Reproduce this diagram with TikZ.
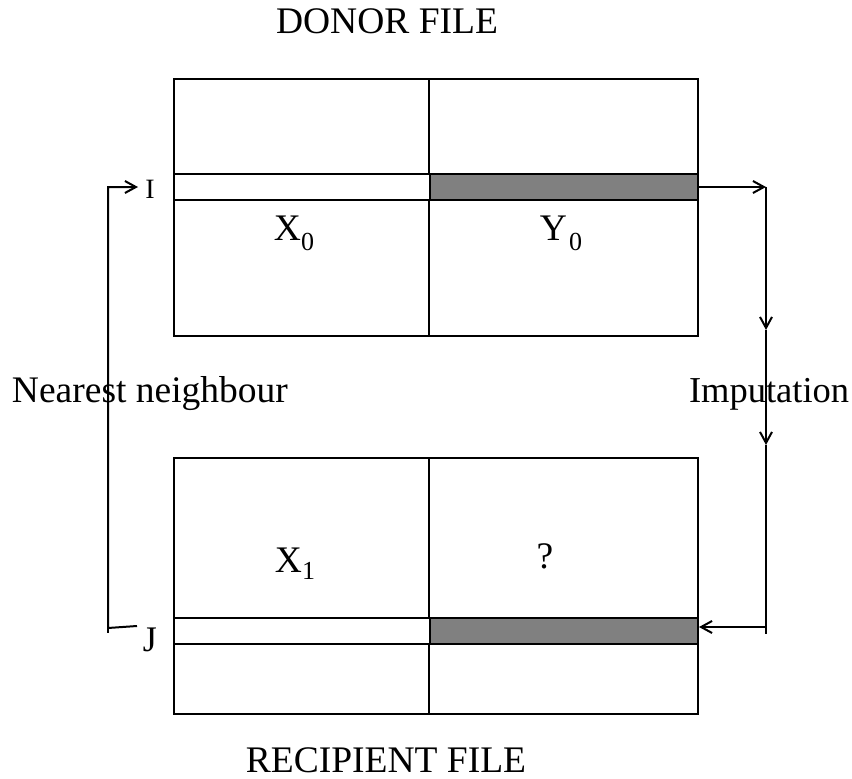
\documentclass[tikz,border=0pt]{standalone}
\usepackage{fontspec}
\setmainfont{Liberation Serif}
\usetikzlibrary{arrows.meta}
\newcommand{\subsc}[2]{\raisebox{-#2}{\fontsize{26}{28}\selectfont #1}}
\definecolor{stripgray}{RGB}{128,128,128}
\begin{document}
\begin{tikzpicture}[x=1pt,y=-1pt,line width=2pt,
  bigbox/.style={draw,rectangle,inner sep=0,minimum width=524pt},
  lstrip/.style={draw,rectangle,inner sep=0,minimum width=256pt,minimum height=26pt},
  rstrip/.style={draw,rectangle,inner sep=0,minimum width=268pt,minimum height=26pt,fill=stripgray},
  lbl/.style={inner sep=0,font=\fontsize{37.5}{40}\selectfont},
  arr/.style={-{Straight Barb[length=11pt,width=12pt,line width=2pt]}}]
\useasboundingbox (0,0) rectangle (852,779);
% boxes
\node[bigbox,minimum height=257pt] (donor) at (436,207.5) {};
\node[bigbox,minimum height=256pt] (recip) at (436,586) {};
\node[lstrip] (donorL) at (302,187) {};
\node[rstrip] (donorR) at (564,187) {};
\node[lstrip] (recipL) at (302,631) {};
\node[rstrip] (recipR) at (564,631) {};
\draw (donor.north -| donorR.west) -- (donorR.north west);
\draw (donorR.south west) -- (donor.south -| donorR.west);
\draw (recip.north -| recipR.west) -- (recipR.north west);
\draw (recipR.south west) -- (recip.south -| recipR.west);
% labels
\node[lbl,anchor=base] (t1) at (387,33) {DONOR FILE};
\node[lbl,anchor=base] (t2) at (386,772) {RECIPIENT FILE};
\node[lbl,anchor=base west] (nn) at (11,402) {Nearest neighbour};
\node[lbl,anchor=base west,font=\fontsize{36.5}{40}\selectfont] (imp) at (688,402) {Imputation};
\node[lbl,anchor=base] (x0) at (294,240) {X\subsc{0}{10pt}};
\node[lbl,anchor=base] (y0) at (561,240) {Y\kern2pt\subsc{0}{10pt}};
\node[lbl,anchor=base] (x1) at (295,572) {X\subsc{1}{7pt}};
\node[lbl,anchor=base] (q) at (545,568) {?};
\node[inner sep=0,anchor=base,font=\fontsize{28}{30}\selectfont] (ilab) at (150,198) {I};
\node[inner sep=0,anchor=base,font=\fontsize{36}{38}\selectfont] (jlab) at (150,651) {J};
% left connector
\coordinate (lbot) at (108,633);
\coordinate (lcorner) at (108,628);
\coordinate (jend) at (137,626);
\coordinate (ltop) at (108,187);
\coordinate (itip) at (138,187);
\draw[arr] (jend) -- (lcorner) -- (ltop) -- (itip);
\draw (lcorner) -- (lbot);
% right connector
\coordinate (rtop) at (766,187);
\coordinate (m1) at (766,330);
\coordinate (m2) at (766,445);
\coordinate (rturn) at (766,627);
\coordinate (rbot) at (766,634);
\draw[arr] (donorR.east) -- (rtop);
\draw[arr] (rtop) -- (m1);
\draw[arr] (m1) -- (m2);
\draw (m2) -- (rbot);
\draw[arr] (rturn) -- (rturn -| recipR.east);
\end{tikzpicture}
\end{document}
